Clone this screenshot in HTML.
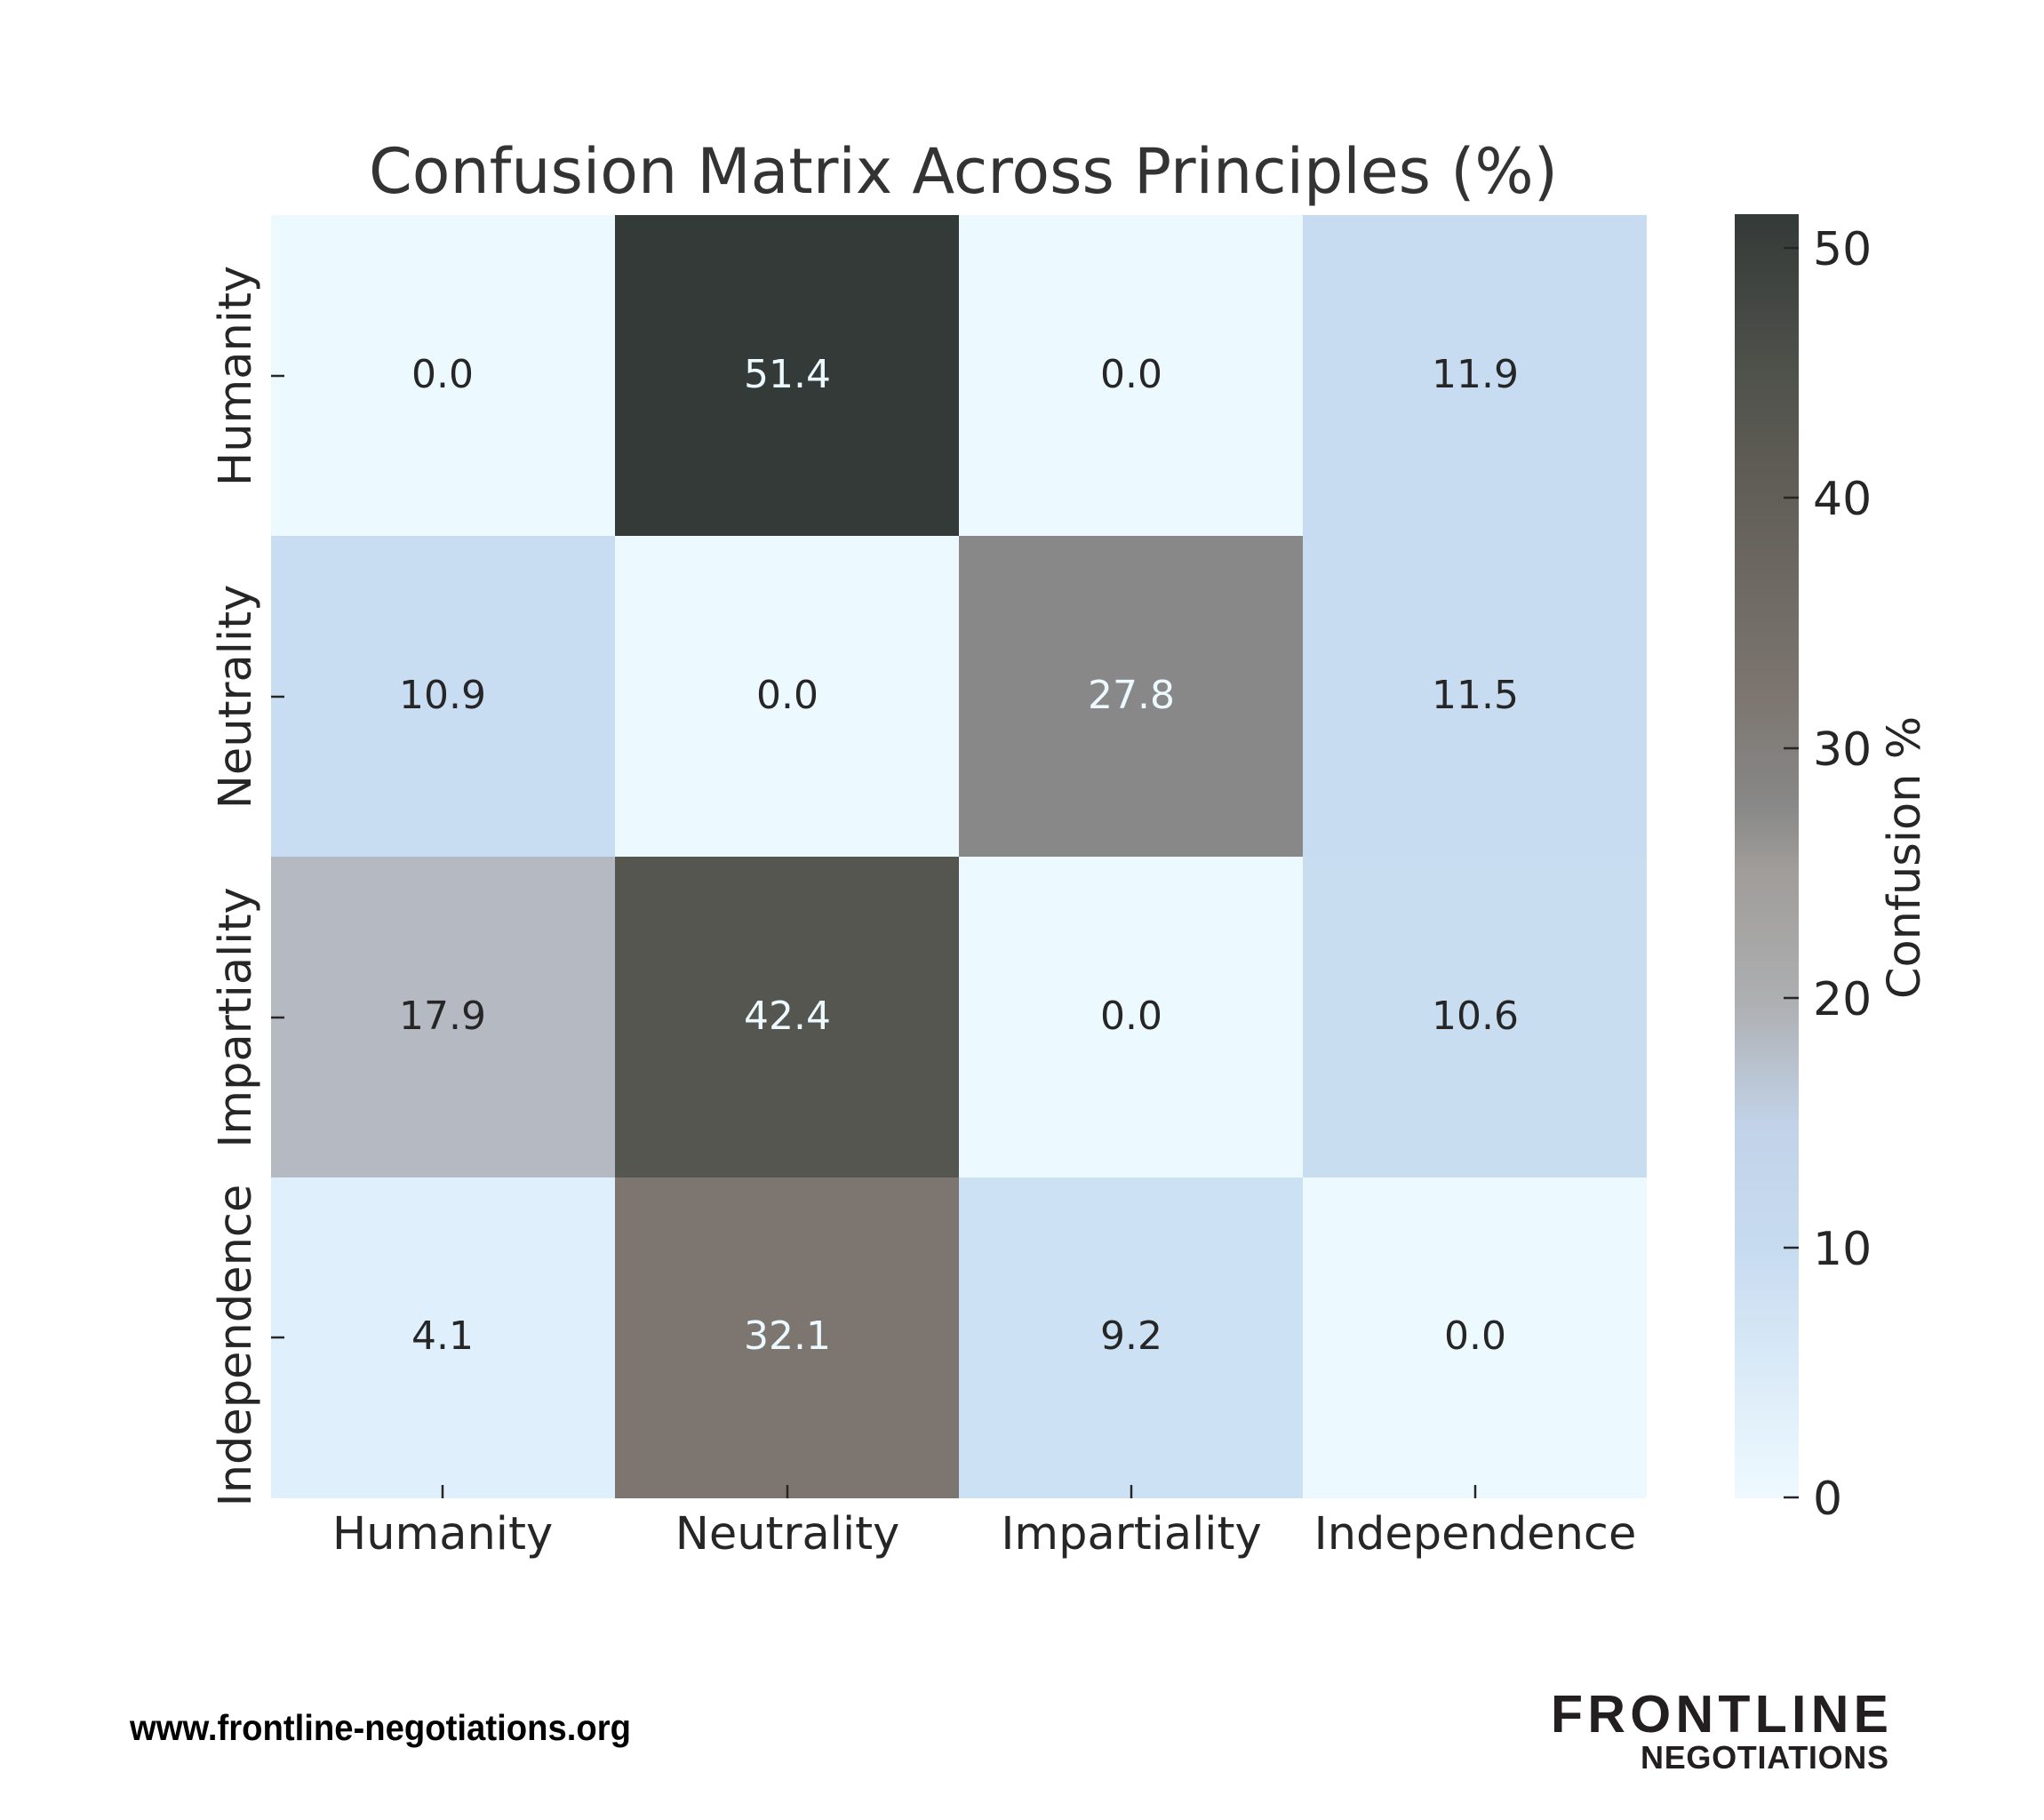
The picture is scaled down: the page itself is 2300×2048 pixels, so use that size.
<!DOCTYPE html>
<html><head><meta charset="utf-8"><style>
html,body{margin:0;padding:0;background:#fff;}
svg{display:block;}
.d{font-family:"DejaVu Sans",sans-serif;}
</style></head><body>
<svg width="2300" height="2048" viewBox="0 0 2300 2048" xmlns="http://www.w3.org/2000/svg">
<defs>
<linearGradient id="cb" x1="0" y1="1" x2="0" y2="0">
<stop offset="0" stop-color="#eefaff"/>
<stop offset="0.195" stop-color="#c7dbf0"/>
<stop offset="0.29" stop-color="#c2d3e8"/>
<stop offset="0.39" stop-color="#adaeb0"/>
<stop offset="0.49" stop-color="#a09d9a"/>
<stop offset="0.54" stop-color="#888888"/>
<stop offset="0.625" stop-color="#7d7670"/>
<stop offset="0.78" stop-color="#625f58"/>
<stop offset="0.875" stop-color="#50524c"/>
<stop offset="1" stop-color="#343a38"/>
</linearGradient>
</defs>
<rect width="2300" height="2048" fill="#fff"/>
<text class="d" x="1084" y="217" font-size="70" fill="#333" text-anchor="middle" textLength="1338" lengthAdjust="spacingAndGlyphs">Confusion Matrix Across Principles (%)</text>

<rect x="305" y="242" width="388" height="362" fill="#ecf9fe"/>
<rect x="692" y="242" width="388" height="362" fill="#343a38"/>
<rect x="1079" y="242" width="388" height="362" fill="#ecf9fe"/>
<rect x="1466" y="242" width="387" height="362" fill="#c8dcf1"/>

<rect x="305" y="603" width="388" height="362" fill="#c9ddf2"/>
<rect x="692" y="603" width="388" height="362" fill="#ecf9fe"/>
<rect x="1079" y="603" width="388" height="362" fill="#888888"/>
<rect x="1466" y="603" width="387" height="362" fill="#c8dcf1"/>

<rect x="305" y="964" width="388" height="362" fill="#b5b9c1"/>
<rect x="692" y="964" width="388" height="362" fill="#55564f"/>
<rect x="1079" y="964" width="388" height="362" fill="#ecf9fe"/>
<rect x="1466" y="964" width="387" height="362" fill="#c9ddf1"/>

<rect x="305" y="1325" width="388" height="361" fill="#dff0fc"/>
<rect x="692" y="1325" width="388" height="361" fill="#7d7670"/>
<rect x="1079" y="1325" width="388" height="361" fill="#cde1f5"/>
<rect x="1466" y="1325" width="387" height="361" fill="#ecf9fe"/>

<g class="d" font-size="44" text-anchor="middle" fill="#262626">
<text x="498" y="436">0.0</text>
<text x="886" y="436" fill="#ecf9fe">51.4</text>
<text x="1273" y="436">0.0</text>
<text x="1660" y="436">11.9</text>
<text x="498" y="797">10.9</text>
<text x="886" y="797">0.0</text>
<text x="1273" y="797" fill="#ecf9fe">27.8</text>
<text x="1660" y="797">11.5</text>
<text x="498" y="1158">17.9</text>
<text x="886" y="1158" fill="#ecf9fe">42.4</text>
<text x="1273" y="1158">0.0</text>
<text x="1660" y="1158">10.6</text>
<text x="498" y="1518">4.1</text>
<text x="886" y="1518" fill="#ecf9fe">32.1</text>
<text x="1273" y="1518">9.2</text>
<text x="1660" y="1518">0.0</text>
</g>

<g stroke="#262626" stroke-width="2.5">
<line x1="305" y1="423" x2="320" y2="423"/>
<line x1="305" y1="784" x2="320" y2="784"/>
<line x1="305" y1="1145" x2="320" y2="1145"/>
<line x1="305" y1="1505" x2="320" y2="1505"/>
<line x1="498" y1="1671" x2="498" y2="1686"/>
<line x1="886" y1="1671" x2="886" y2="1686"/>
<line x1="1273" y1="1671" x2="1273" y2="1686"/>
<line x1="1660" y1="1671" x2="1660" y2="1686"/>
</g>

<g class="d" font-size="51" fill="#262626" text-anchor="middle">
<text x="498" y="1743">Humanity</text>
<text x="886" y="1743">Neutrality</text>
<text x="1273" y="1743">Impartiality</text>
<text x="1660" y="1743">Independence</text>
<text transform="translate(282,423) rotate(-90)">Humanity</text>
<text transform="translate(282,784) rotate(-90)">Neutrality</text>
<text transform="translate(282,1145) rotate(-90)">Impartiality</text>
<text transform="translate(282,1514) rotate(-90)">Independence</text>
</g>

<rect x="1952" y="241" width="72" height="1445" fill="url(#cb)"/>
<g stroke="#262626" stroke-width="2.5">
<line x1="2007" y1="1685" x2="2024" y2="1685"/>
<line x1="2007" y1="1404" x2="2024" y2="1404"/>
<line x1="2007" y1="1123" x2="2024" y2="1123"/>
<line x1="2007" y1="842" x2="2024" y2="842"/>
<line x1="2007" y1="560" x2="2024" y2="560"/>
<line x1="2007" y1="279" x2="2024" y2="279"/>
</g>
<g class="d" font-size="52" fill="#262626">
<text x="2040" y="1704">0</text>
<text x="2040" y="1423">10</text>
<text x="2040" y="1142">20</text>
<text x="2040" y="861">30</text>
<text x="2040" y="579">40</text>
<text x="2040" y="298">50</text>
<text transform="translate(2160,965) rotate(-90)" text-anchor="middle" font-size="51">Confusion %</text>
</g>

<text x="146" y="1958" font-family="Liberation Sans, sans-serif" font-weight="bold" font-size="41" fill="#000" textLength="564" lengthAdjust="spacingAndGlyphs">www.frontline-negotiations.org</text>
<text x="1745" y="1949" font-family="Liberation Sans, sans-serif" font-weight="bold" font-size="59" fill="#231f20" textLength="380" lengthAdjust="spacing">FRONTLINE</text>
<text x="1846" y="1990" font-family="Liberation Sans, sans-serif" font-weight="bold" font-size="36" fill="#231f20" textLength="279" lengthAdjust="spacing">NEGOTIATIONS</text>
</svg>
</body></html>
